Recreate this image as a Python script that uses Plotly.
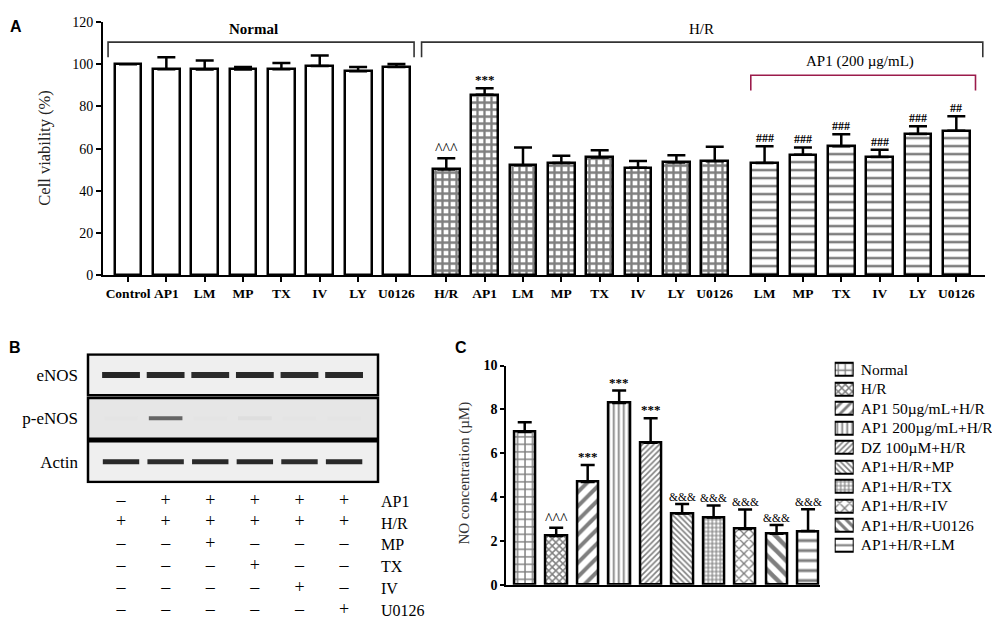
import plotly.graph_objects as go

W, H = 1000, 618
SERIF = "Liberation Serif, Times New Roman, serif"
SANS = "Liberation Sans, Arial, sans-serif"


def fx(p):
    # pixel -> paper x
    return p / W


def fy(p):
    # pixel -> paper y
    return 1 - p / H


# ---- panel A: cell viability ----
normal_labels = ["Control", "AP1", "LM", "MP", "TX", "IV", "LY", "U0126"]
normal_vals = [100, 97.6, 97.5, 97.5, 97.6, 99.2, 96.7, 98.7]
normal_err = [None, 5.7, 4.3, 1.2, 3.0, 5.0, 2.0, 1.4]

hr_labels = ["H/R", "AP1", "LM", "MP", "TX", "IV", "LY", "U0126"]
hr_vals = [50.1, 85.6, 52.1, 53.2, 55.8, 50.9, 53.4, 54.0]
hr_err = [5.4, 3.1, 8.5, 3.4, 3.4, 3.2, 3.5, 6.9]
hr_marks = ["^^^", "***", "", "", "", "", "", ""]

ap1_labels = ["LM", "MP", "TX", "IV", "LY", "U0126"]
ap1_vals = [53.2, 57.1, 61.1, 56.1, 66.9, 68.5]
ap1_err = [7.9, 3.5, 5.7, 3.4, 3.7, 6.9]
ap1_marks = ["###", "###", "###", "###", "###", "##"]

# ---- panel B: western blot + treatment table ----
blot_rows = ["eNOS", "p-eNOS", "Actin"]
lanes = [0, 1, 2, 3, 4, 5]
enos_band = [0.92, 0.90, 0.89, 0.90, 0.88, 0.90]
penos_band = [0.03, 0.62, 0.03, 0.06, 0.03, 0.03]
actin_band = [0.90, 0.88, 0.90, 0.90, 0.88, 0.90]

table_rows = ["AP1", "H/R", "MP", "TX", "IV", "U0126"]
sign_ap1 = [0, 1, 1, 1, 1, 1]
sign_hr = [1, 1, 1, 1, 1, 1]
sign_mp = [0, 0, 1, 0, 0, 0]
sign_tx = [0, 0, 0, 1, 0, 0]
sign_iv = [0, 0, 0, 0, 1, 0]
sign_u0126 = [0, 0, 0, 0, 0, 1]

# ---- panel C: NO concentration ----
c_names = ["Normal", "H/R", "AP1 50µg/mL+H/R", "AP1 200µg/mL+H/R", "DZ 100µM+H/R",
           "AP1+H/R+MP", "AP1+H/R+TX", "AP1+H/R+IV", "AP1+H/R+U0126", "AP1+H/R+LM"]
c_vals = [6.97, 2.23, 4.69, 8.29, 6.48, 3.25, 3.07, 2.55, 2.33, 2.45]
c_err = [0.45, 0.37, 0.78, 0.57, 1.12, 0.44, 0.55, 0.89, 0.40, 1.00]
c_marks = ["", "^^^", "***", "***", "***", "&&&", "&&&", "&&&", "&&&", "&&&"]

# bar fill patterns for panel C (shape, size, solidity)
c_patterns = [("+", 7.5, 0.35), ("x", 5, 0.5), ("/", 10, 0.4), ("|", 5, 0.35), ("/", 4, 0.4),
              ("\\", 4, 0.4), ("+", 4, 0.5), ("x", 7, 0.35), ("\\", 10, 0.45), ("-", 10, 0.3)]

GAP = 1.3
x_normal = list(range(len(normal_vals)))
x_hr = [x_normal[-1] + GAP + i for i in range(len(hr_vals))]
x_ap1 = [x_hr[-1] + GAP + i for i in range(len(ap1_vals))]

fig = go.Figure()

outline = dict(color="black", width=2.5)


def err(arr, w):
    return dict(type="data", array=arr, arrayminus=[0] * len(arr), symmetric=False,
                color="black", thickness=2.5, width=w)


def pat(shape, size, solidity):
    return dict(shape=shape, size=size, solidity=solidity, fgcolor="black", bgcolor="white")


fig.add_trace(go.Bar(x=x_normal, y=normal_vals, width=0.7,
                     marker=dict(color="white", line=outline),
                     error_y=err(normal_err, 9), xaxis="x", yaxis="y"))
fig.add_trace(go.Bar(x=x_hr, y=hr_vals, width=0.7,
                     marker=dict(color="white", line=outline, pattern=pat("+", 7, 0.55)),
                     error_y=err(hr_err, 9), xaxis="x", yaxis="y"))
fig.add_trace(go.Bar(x=x_ap1, y=ap1_vals, width=0.7,
                     marker=dict(color="white", line=outline, pattern=pat("-", 8, 0.32)),
                     error_y=err(ap1_err, 9), xaxis="x", yaxis="y"))

annots = []
mark_font = {"***": dict(size=13, weight="bold"), "^^^": dict(size=16, weight="normal"),
             "###": dict(size=12, weight="bold"), "##": dict(size=12, weight="bold"),
             "&&&": dict(size=11.5, weight="normal")}
for xs, vs, es, ms in [(x_hr, hr_vals, hr_err, hr_marks), (x_ap1, ap1_vals, ap1_err, ap1_marks)]:
    for x, v, e, m in zip(xs, vs, es, ms):
        if m:
            annots.append(dict(x=x, y=v + e, xref="x", yref="y", text=m, showarrow=False,
                               xanchor="center", yanchor="bottom", yshift=-1,
                               font=dict(family=SERIF, color="black", **mark_font[m])))

# group brackets
shapes = []


def bracket(x0, x1, ytop, ybot, color):
    shapes.append(dict(type="path", xref="x", yref="y",
                       path=f"M{x0},{ybot} L{x0},{ytop} L{x1},{ytop} L{x1},{ybot}",
                       line=dict(color=color, width=1.6)))


bracket(x_normal[0] - 0.52, x_normal[-1] + 0.46, 110.5, 103.3, "#333333")
bracket(x_hr[0] - 0.645, x_ap1[-1] + 0.69, 110.5, 103.3, "#333333")
bracket(x_ap1[0] - 0.36, x_ap1[-1] + 0.50, 94.8, 87.6, "#9b1b4b")


def paper_text(text, px_, py_, size, family=SERIF, weight="normal", angle=0, color="black"):
    annots.append(dict(x=fx(px_), y=fy(py_), xref="paper", yref="paper", text=text,
                       xanchor="center", yanchor="middle", textangle=angle, showarrow=False,
                       font=dict(family=family, size=size, color=color, weight=weight)))


paper_text("Normal", 245, 14, 15, weight="bold")
paper_text("H/R", 693, 14, 15)
paper_text("AP1 (200 µg/mL)", 852, 48, 15)
paper_text("Cell viability (%)", 37, 137, 16.5, angle=-90, color="#222")

# ---- panel B traces ----
def band_colors(vals):
    return [f"rgb({int(235 - 215 * v)},{int(235 - 215 * v)},{int(235 - 215 * v)})" for v in vals]


# line-ew markers are 1.4*size long
for r, (band, size, lw) in enumerate([(enos_band, 27, 6), (penos_band, 24, 4), (actin_band, 26, 5)]):
    cols = band_colors(band)
    fig.add_trace(go.Scatter(x=lanes, y=[r] * len(lanes), mode="markers",
                             marker=dict(symbol="line-ew", size=size, color=cols,
                                         line=dict(color=cols, width=lw)),
                             hoverinfo="skip", xaxis="x4", yaxis="y4"))
    shapes.append(dict(type="rect", xref="x4 domain", yref="y4", x0=0, x1=1,
                       y0=r - 0.47, y1=r + 0.47, layer="below",
                       fillcolor="#e6e6e6" if r == 1 else "#efefef",
                       line=dict(color="black", width=2.5)))

for r, signs in enumerate([sign_ap1, sign_hr, sign_mp, sign_tx, sign_iv, sign_u0126]):
    fig.add_trace(go.Scatter(x=lanes, y=[r] * len(lanes), mode="text",
                             text=["+" if s else "–" for s in signs],
                             textfont=dict(family=SERIF, size=18, color="black"),
                             hoverinfo="skip", xaxis="x5", yaxis="y5"))

# ---- panel C traces ----
for i, (v, e, (shp, sz, sol)) in enumerate(zip(c_vals, c_err, c_patterns)):
    fig.add_trace(go.Bar(x=[i], y=[v], width=0.68, name=c_names[i],
                         marker=dict(color="white", line=outline, pattern=pat(shp, sz, sol)),
                         error_y=err([e], 7), xaxis="x2", yaxis="y2"))
    # legend swatch, drawn on its own small axis
    fig.add_trace(go.Bar(y=[i], x=[1], base=0, orientation="h", width=0.66, name=c_names[i],
                         marker=dict(color="white", line=dict(color="black", width=2),
                                     pattern=pat(shp, min(sz, 7), sol)),
                         xaxis="x3", yaxis="y3"))
for i, (v, e, m) in enumerate(zip(c_vals, c_err, c_marks)):
    if m:
        annots.append(dict(x=i, y=v + e, xref="x2", yref="y2", text=m, showarrow=False,
                           xanchor="center", yanchor="bottom", yshift=-1,
                           font=dict(family=SERIF, color="black", **mark_font[m])))
paper_text("NO concentration (µM)", 457, 470, 15, angle=-90, color="#333")

# panel letters
for letter, px_, py_ in [("A", 8, 12), ("B", 7, 341), ("C", 453, 341)]:
    paper_text(letter, px_, py_, 16, family=SANS, weight="bold")

axis_common = dict(showgrid=False, zeroline=False, showline=True, linecolor="black",
                   linewidth=2, ticks="outside", tickwidth=2, tickcolor="black")

fig.update_layout(
    width=W, height=H, margin=dict(l=0, r=0, t=0, b=0),
    paper_bgcolor="white", plot_bgcolor="rgba(0,0,0,0)",
    barmode="overlay", bargap=0, showlegend=False,
    xaxis=dict(axis_common, domain=[fx(95), fx(976.7)], range=[-0.652, 22.34],
               tickvals=x_normal + x_hr + x_ap1, ticktext=normal_labels + hr_labels + ap1_labels,
               ticklen=5, tickfont=dict(family=SERIF, size=13.5, color="black", weight="bold"),
               anchor="y"),
    yaxis=dict(axis_common, domain=[fy(266.7), fy(7.3)], range=[0, 120], dtick=20, ticklen=5,
               tickfont=dict(family=SERIF, size=14, color="black"), anchor="x"),
    xaxis2=dict(axis_common, domain=[fx(498.3), fx(811.7)], range=[-0.585, 9.37],
                ticks="", showticklabels=False, anchor="y2"),
    yaxis2=dict(axis_common, domain=[fy(584), fy(359.3)], range=[0, 10], dtick=2, ticklen=4,
                tickfont=dict(family=SERIF, size=14, color="black", weight="bold"), anchor="x2"),
    xaxis3=dict(domain=[fx(826.7), fx(845.7)], range=[0, 1], visible=False, anchor="y3"),
    yaxis3=dict(domain=[fy(553.2), fy(353.3)], range=[9.5, -0.5],
                tickvals=list(range(len(c_names))), ticktext=c_names, side="right",
                showgrid=False, zeroline=False, showline=False, ticks="", ticklabelstandoff=6,
                tickfont=dict(family=SERIF, size=15.5, color="black"), anchor="x3"),
    xaxis4=dict(domain=[fx(80), fx(370)], range=[-0.74, 5.76], visible=False, anchor="y4"),
    yaxis4=dict(domain=[fy(480), fy(346.7)], range=[2.5, -0.5], tickvals=[0, 1, 2],
                ticktext=blot_rows, showgrid=False, zeroline=False, showline=False, ticks="",
                ticklabelstandoff=9, tickfont=dict(family=SERIF, size=17, color="black"),
                anchor="x4"),
    xaxis5=dict(domain=[fx(80), fx(370)], range=[-0.74, 5.76], visible=False, anchor="y5"),
    yaxis5=dict(domain=[0, fy(487.1)], range=[5.357, -0.5], tickvals=list(range(len(table_rows))),
                ticktext=table_rows, side="right", showgrid=False, zeroline=False,
                showline=False, ticks="", ticklabelstandoff=2,
                tickfont=dict(family=SERIF, size=16, color="black"), anchor="x5"),
    shapes=shapes,
    annotations=annots,
)

fig.write_html("out.html")
